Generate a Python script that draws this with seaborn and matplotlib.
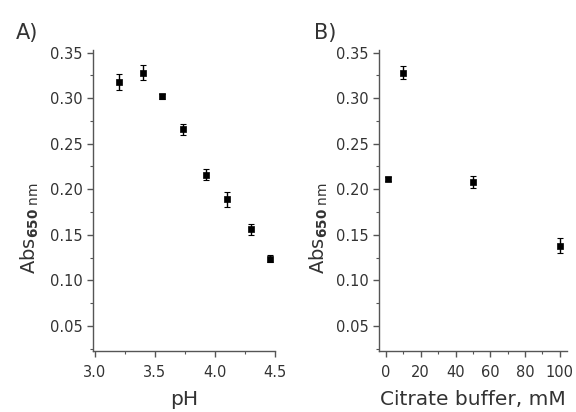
import matplotlib
matplotlib.use("Agg")
import matplotlib.pyplot as plt
import seaborn as sns
import pandas as pd
from matplotlib.ticker import MultipleLocator, AutoMinorLocator

# pH series
ph = [3.20, 3.40, 3.56, 3.74, 3.93, 4.10, 4.30, 4.46]
abs_ph = [0.318, 0.328, 0.302, 0.266, 0.216, 0.189, 0.156, 0.124]
err_ph = [0.009, 0.008, 0.003, 0.006, 0.006, 0.008, 0.006, 0.004]

# Citrate buffer series
citrate = [1, 10, 50, 100]
abs_cit = [0.211, 0.328, 0.208, 0.138]
err_cit = [0.002, 0.007, 0.007, 0.008]

y_ticks = [0.05, 0.10, 0.15, 0.20, 0.25, 0.30, 0.35]

sns.set_style("ticks")
plt.rcParams["font.family"] = ["DejaVu Sans"]
plt.rcParams["mathtext.fontset"] = "dejavusans"
text_color = "#333333"
axis_color = "#555555"

fig = plt.figure(figsize=(5.76, 4.12), dpi=100)
ax1 = fig.add_axes([0.162, 0.148, 0.316, 0.731])
ax2 = fig.add_axes([0.658, 0.148, 0.326, 0.731])

df1 = pd.DataFrame({"pH": ph, "abs": abs_ph, "err": err_ph})
df2 = pd.DataFrame({"c": citrate, "abs": abs_cit, "err": err_cit})

ylabel = r"Abs$_{\mathbf{650}\ \mathregular{nm}}$"

for ax, df, xcol, lx in [(ax1, df1, "pH", -0.29), (ax2, df2, "c", -0.26)]:
    ax.errorbar(df[xcol], df["abs"], yerr=df["err"], fmt="none",
                ecolor="black", elinewidth=1.0, capsize=2.5, capthick=0.8, zorder=2)
    sns.scatterplot(data=df, x=xcol, y="abs", ax=ax, marker="s", s=24,
                    color="black", edgecolor="black", linewidth=0.5, zorder=3)
    ax.set_ylim(0.0225, 0.353)
    ax.set_yticks(y_ticks)
    ax.set_yticklabels([f"{v:.2f}" for v in y_ticks])
    ax.yaxis.set_minor_locator(AutoMinorLocator(2))
    ax.xaxis.set_minor_locator(AutoMinorLocator(2))
    for s in ["top", "right"]:
        ax.spines[s].set_visible(False)
    for s in ["left", "bottom"]:
        ax.spines[s].set_color(axis_color)
        ax.spines[s].set_linewidth(1.0)
    ax.tick_params(which="major", length=4, width=1, color=axis_color,
                   labelsize=10.5, labelcolor=text_color)
    ax.tick_params(axis="y", which="major", pad=3.5)
    ax.tick_params(axis="x", which="major", pad=6)
    ax.tick_params(which="minor", length=2.5, width=0.8, color=axis_color)
    ax.set_ylabel(ylabel, fontsize=14, color=text_color)
    ax.yaxis.set_label_coords(lx, 0.41)

ax1.set_xlim(2.99, 4.505)
ax1.xaxis.set_major_locator(MultipleLocator(0.5))
ax1.xaxis.set_major_formatter(plt.FuncFormatter(lambda v, p: f"{v:.1f}"))
ax1.set_xlabel("pH", fontsize=14.5, color=text_color, labelpad=7)

ax2.set_xlim(-4, 104)
ax2.xaxis.set_major_locator(MultipleLocator(20))
ax2.set_xlabel("Citrate buffer, mM", fontsize=14.5, color=text_color, labelpad=7)

fig.text(0.028, 0.92, "A)", fontsize=15, color=text_color, va="center")
fig.text(0.545, 0.92, "B)", fontsize=15, color=text_color, va="center")

fig.savefig("out.png", dpi=100)
